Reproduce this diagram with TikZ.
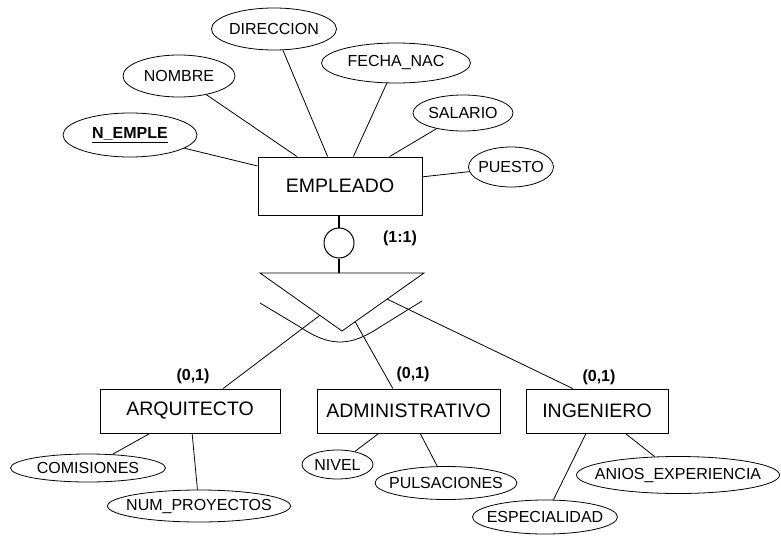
\documentclass[tikz,border=0pt]{standalone}
\usepackage{fontspec}
\setmainfont{Liberation Sans}
\usetikzlibrary{shapes.geometric,calc}

\newlength{\du}
\setlength{\du}{1pt}
\newcommand{\nb}[1]{\makebox[0pt]{#1}}

\tikzset{
  entidad/.style={draw, line width=1pt, inner sep=0pt, font=\fontsize{19.5}{23}\selectfont},
  atributo/.style={draw, ellipse, line width=0.8pt, inner sep=0pt, font=\fontsize{16}{19}\selectfont},
  card/.style={font=\fontsize{16}{19}\selectfont\bfseries},
  arista/.style={line width=0.8pt},
  gruesa/.style={line width=2pt}
}

\begin{document}
\begin{tikzpicture}
\pgftransformxscale{1.000000}
\pgftransformyscale{-1.000000}
\useasboundingbox (0\du,0\du) rectangle (781\du,535\du);

% entidades
\node[entidad, minimum width=164\du, minimum height=58\du] (empleado) at (340\du,186\du) {EMPLEADO};
\node[entidad, minimum width=180\du, minimum height=44\du] (arquitecto) at (190\du,411\du) {ARQUITECTO};
\node[entidad, minimum width=183\du, minimum height=44\du] (administrativo) at (408.5\du,411\du) {ADMINISTRATIVO};
\node[entidad, minimum width=142\du, minimum height=44\du] (ingeniero) at (597\du,411\du) {INGENIERO};

% atributos de EMPLEADO
\node[atributo, minimum width=134\du, minimum height=44\du] (nemple) at (130\du,135\du) {\nb{\underline{\textbf{N\_EMPLE}}}};
\node[atributo, minimum width=112\du, minimum height=42\du] (nombre) at (179\du,76\du) {\nb{NOMBRE}};
\node[atributo, minimum width=125\du, minimum height=42\du] (direccion) at (274\du,29\du) {\nb{DIRECCION}};
\node[atributo, minimum width=149\du, minimum height=40\du] (fechanac) at (396\du,63\du) {\nb{FECHA\_NAC}};
\node[atributo, minimum width=100\du, minimum height=36\du] (salario) at (463\du,113\du) {\nb{SALARIO}};
\node[atributo, minimum width=85\du, minimum height=40\du] (puesto) at (511\du,167\du) {\nb{PUESTO}};
\draw[arista] (empleado) -- (nemple);
\draw[arista] (empleado) -- (nombre);
\draw[arista] (empleado) -- (direccion);
\draw[arista] (empleado) -- (fechanac);
\draw[arista] (empleado) -- (salario);
\draw[arista] (empleado) -- (puesto);

% atributos de los subtipos
\node[atributo, minimum width=155\du, minimum height=28\du] (comisiones) at (88\du,468\du) {\nb{COMISIONES}};
\node[atributo, minimum width=183\du, minimum height=32\du] (numproy) at (199\du,506\du) {\nb{NUM\_PROYECTOS}};
\node[atributo, minimum width=71\du, minimum height=29\du] (nivel) at (337.5\du,464.5\du) {\nb{NIVEL}};
\node[atributo, minimum width=142\du, minimum height=33\du] (pulsaciones) at (446\du,483\du) {\nb{PULSACIONES}};
\node[atributo, minimum width=145\du, minimum height=34\du] (especialidad) at (545\du,517\du) {\nb{ESPECIALIDAD}};
\node[atributo, minimum width=203\du, minimum height=37\du] (anios) at (678\du,475\du) {\nb{ANIOS\_EXPERIENCIA}};
\draw[arista] (arquitecto) -- (comisiones);
\draw[arista] (arquitecto) -- (numproy);
\draw[arista] (administrativo) -- (nivel);
\draw[arista] (administrativo) -- (pulsaciones);
\draw[arista] (ingeniero) -- (especialidad);
\draw[arista] (ingeniero) -- (anios);

% jerarquia
\node[draw, circle, line width=1pt, minimum size=30\du, inner sep=0pt] (disj) at (339\du,243\du) {};
\coordinate (ti) at (260\du,273\du);
\coordinate (td) at (424\du,273\du);
\coordinate (tv) at (342\du,331\du);
\coordinate (tc) at (339\du,273\du);
\draw[gruesa] (empleado.south -| disj) -- (disj);
\draw[gruesa] (disj) -- (tc);
\draw[arista] (ti) -- (td) -- (tv) -- cycle;
\draw[arista] (260\du,303\du) -- (300\du,327\du) .. controls (330\du,347\du) and (350\du,347\du) .. (380\du,327\du) -- (422\du,301\du);
\draw[arista] ($(ti)!0.73!(tv)$) -- ($(arquitecto.north west)!0.683!(arquitecto.north east)$);
\draw[arista] ($(tv)!0.16!(td)$) -- ($(administrativo.north west)!0.415!(administrativo.north east)$);
\draw[arista] ($(tv)!0.55!(td)$) -- ($(ingeniero.north west)!0.33!(ingeniero.north east)$);

% cardinalidades
\node[card] (c11) at (400\du,238\du) {(1:1)};
\node[card] (c01a) at (193\du,376\du) {(0,1)};
\node[card] (c01b) at (413\du,374\du) {(0,1)};
\node[card] (c01c) at (599\du,377\du) {(0,1)};
\end{tikzpicture}
\end{document}
